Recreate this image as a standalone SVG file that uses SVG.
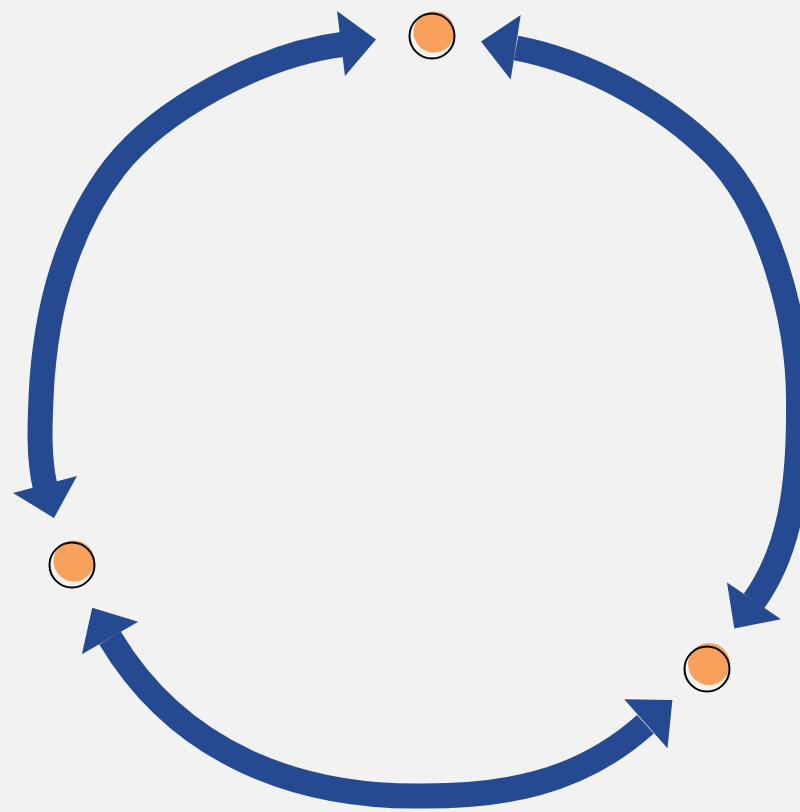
<svg xmlns="http://www.w3.org/2000/svg" width="800" height="812" viewBox="0 0 800 812">
<style>
.bg{fill:#F2F2F2}
.body{fill:none;stroke:#254A91;stroke-width:25;stroke-linecap:butt}
.head{fill:#254A91}
.dot{fill:#F8A15D}
.ring{fill:none;stroke:#000;stroke-width:2}
</style>
<rect class="bg" x="0" y="0" width="800" height="812"/>
<g id="connectors">
  <g id="arc-left">
    <path class="body" d="M342,44.5 C260,55 160,110 115,167 C70,225 48,300 42,380 C39,430 39,460 45,486"/>
    <polygon class="head" points="337,11 376,39.5 345,76"/>
    <polygon class="head" points="13,493 77,476 54,518"/>
  </g>
  <g id="arc-right">
    <path class="body" d="M516,48 C590,62 665,105 713,153 C768,208 800,320 798.5,408 C799,490 788.8,552.4 754,601"/>
    <polygon class="head" points="520.7,15 481,41.6 510.7,79.6"/>
    <polygon class="head" points="727,582.4 781,619.2 734.3,628.6"/>
  </g>
  <g id="arc-bottom">
    <path class="body" d="M110,638 C180,755 300,798 424,796 C500,796 578,785 645.4,724.3"/>
    <polygon class="head" points="138.2,621.7 92.2,607.7 81.9,654.3"/>
    <polygon class="head" points="624.2,699.3 672.4,700 667.5,748.3"/>
  </g>
</g>
<g id="node-top">
  <circle class="dot" cx="434" cy="32" r="20.5"/>
  <circle class="ring" cx="432" cy="36" r="22.5"/>
</g>
<g id="node-left">
  <circle class="dot" cx="74" cy="561" r="20.5"/>
  <circle class="ring" cx="72" cy="565" r="22.5"/>
</g>
<g id="node-right">
  <circle class="dot" cx="709" cy="664" r="21"/>
  <circle class="ring" cx="707" cy="669" r="22.5"/>
</g>
</svg>
